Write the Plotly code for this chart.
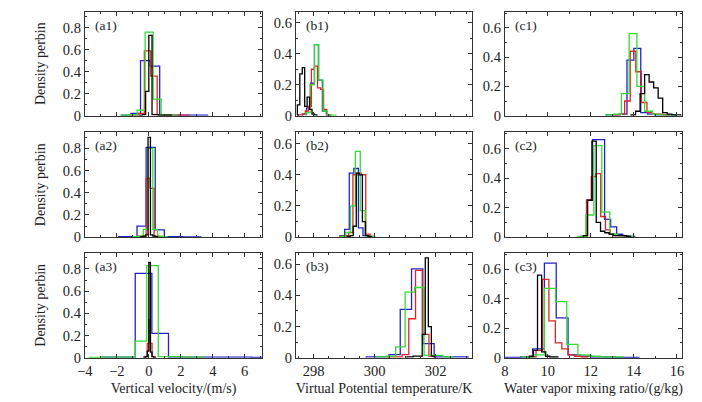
import plotly.graph_objects as go

# ---- data: (first bin edge, bin width) and density per bin for each series ----
A1_BINS = {"blue": (-1.72, 0.6), "red": (-1.08, 0.4), "green": (-1.73, 0.5), "black": (-0.6, 0.2)}
A1_BLUE = [0.005, 0.02, 0.50, 0.45, 0.01, 0.005, 0.005, 0.005, 0.005]
A1_RED = [0.005, 0.02, 0.59, 0.36, 0.01, 0.005, 0.005, 0.005, 0.005]
A1_GREEN = [0.005, 0.01, 0.05, 0.76, 0.15, 0.01, 0.005]
A1_BLACK = [0.005, 0.01, 0.22, 0.73, 0.01, 0.01, 0.005, 0.005, 0.005, 0.005]

A2_BINS = {"blue": (-1.88, 0.57), "red": (-0.92, 0.25), "green": (-0.95, 0.3), "black": (-0.5, 0.15)}
A2_BLUE = [0.005, 0.005, 0.10, 0.81, 0.065, 0.005, 0.005, 0.003, 0.003]
A2_RED = [0.005, 0.01, 0.01, 0.53, 0.44, 0.01, 0.005, 0.005]
A2_GREEN = [0.005, 0.01, 0.07, 0.80, 0.07, 0.01, 0.005]
A2_BLACK = [0.005, 0.01, 0.02, 0.90, 0.02, 0.01, 0.005]

A3_BINS = {"blue": (-2.93, 1.04), "red": (-0.3, 0.1), "green": (-3.73, 0.72), "black": (-0.3, 0.1)}
A3_BLUE = [0.005, 0.005, 0.76, 0.22, 0.005, 0.005, 0.005, 0.005, 0.005, 0.003]
A3_RED = [0.005, 0.01, 0.13, 0.34, 0.13, 0.01, 0.005]
A3_GREEN = [0.003, 0.005, 0.005, 0.005, 0.15, 0.83, 0.01, 0.01, 0.005, 0.005]
A3_BLACK = [0.005, 0.01, 0.06, 0.86, 0.05, 0.01, 0.005]

B1_BINS = {"blue": (297.64, 0.13), "red": (297.53, 0.1), "green": (297.75, 0.14), "black": (297.47, 0.08)}
B1_BLUE = [0.01, 0.05, 0.21, 0.46, 0.23, 0.03, 0.005]
B1_RED = [0.005, 0.01, 0.03, 0.06, 0.30, 0.32, 0.18, 0.17, 0.04, 0.005]
B1_GREEN = [0.02, 0.20, 0.46, 0.23, 0.03, 0.005, 0.003]
B1_BLACK = [0.07, 0.27, 0.31, 0.06, 0.12, 0.04, 0.01, 0.005]

B2_BINS = {"blue": (298.87, 0.15), "red": (298.87, 0.14), "green": (298.89, 0.16), "black": (299.1, 0.1)}
B2_BLUE = [0.01, 0.05, 0.41, 0.44, 0.06, 0.01]
B2_RED = [0.005, 0.01, 0.03, 0.40, 0.41, 0.40, 0.02, 0.005]
B2_GREEN = [0.005, 0.03, 0.20, 0.55, 0.17, 0.01, 0.005]
B2_BLACK = [0.005, 0.01, 0.07, 0.41, 0.40, 0.10, 0.01, 0.005]

B3_BINS = {"blue": (299.73, 0.37), "red": (300.46, 0.22), "green": (300.07, 0.31), "black": (301.06, 0.1)}
B3_BLUE = [0.005, 0.005, 0.02, 0.31, 0.57, 0.09, 0.005, 0.005, 0.005]
B3_RED = [0.005, 0.005, 0.02, 0.25, 0.56, 0.15, 0.01]
B3_GREEN = [0.005, 0.01, 0.07, 0.42, 0.45, 0.015, 0.015, 0.005]
B3_BLACK = [0.005, 0.005, 0.01, 0.01, 0.01, 0.15, 0.64, 0.20, 0.01]

C1_BINS = {"blue": (12.72, 0.32), "red": (13.05, 0.26), "green": (12.7, 0.36), "black": (13.87, 0.21)}
C1_BLUE = [0.005, 0.005, 0.01, 0.38, 0.46, 0.02, 0.01, 0.005, 0.005, 0.005]
C1_RED = [0.005, 0.01, 0.10, 0.44, 0.30, 0.09, 0.02, 0.01, 0.01, 0.005]
C1_GREEN = [0.005, 0.01, 0.15, 0.56, 0.20, 0.03, 0.01, 0.005, 0.005]
C1_BLACK = [0.005, 0.03, 0.15, 0.28, 0.23, 0.19, 0.12, 0.02, 0.01, 0.005, 0.005]

C2_BINS = {"blue": (11.52, 0.28), "red": (11.58, 0.22), "green": (11.4, 0.37), "black": (11.65, 0.2)}
C2_BLUE = [0.005, 0.25, 0.66, 0.66, 0.12, 0.07, 0.02, 0.01, 0.005]
C2_RED = [0.005, 0.25, 0.41, 0.43, 0.14, 0.05, 0.02, 0.01, 0.01, 0.005]
C2_GREEN = [0.005, 0.15, 0.62, 0.17, 0.02, 0.01, 0.005]
C2_BLACK = [0.01, 0.25, 0.65, 0.10, 0.04, 0.03, 0.02, 0.01, 0.01, 0.01, 0.005]

C3_BINS = {"blue": (7.64, 0.55), "red": (9.15, 0.3), "green": (8.8, 0.52), "black": (9.14, 0.19)}
C3_BLUE = [0.003, 0.003, 0.005, 0.06, 0.64, 0.27, 0.02, 0.01, 0.005, 0.005, 0.003, 0.003]
C3_RED = [0.005, 0.05, 0.53, 0.25, 0.10, 0.06, 0.02, 0.01, 0.005]
C3_GREEN = [0.005, 0.02, 0.47, 0.38, 0.09, 0.02, 0.01, 0.005, 0.005]
C3_BLACK = [0.01, 0.05, 0.56, 0.04, 0.01, 0.005, 0.005]

X_TITLES = ["Vertical velocity/(m/s)", "Virtual Potential temperature/K", "Water vapor mixing ratio/(g/kg)"]
Y_TITLE = "Density perbin"

PANELS = {
    "a1": (A1_BINS, {"blue": A1_BLUE, "red": A1_RED, "green": A1_GREEN, "black": A1_BLACK}),
    "a2": (A2_BINS, {"blue": A2_BLUE, "red": A2_RED, "green": A2_GREEN, "black": A2_BLACK}),
    "a3": (A3_BINS, {"blue": A3_BLUE, "red": A3_RED, "green": A3_GREEN, "black": A3_BLACK}),
    "b1": (B1_BINS, {"blue": B1_BLUE, "red": B1_RED, "green": B1_GREEN, "black": B1_BLACK}),
    "b2": (B2_BINS, {"blue": B2_BLUE, "red": B2_RED, "green": B2_GREEN, "black": B2_BLACK}),
    "b3": (B3_BINS, {"blue": B3_BLUE, "red": B3_RED, "green": B3_GREEN, "black": B3_BLACK}),
    "c1": (C1_BINS, {"blue": C1_BLUE, "red": C1_RED, "green": C1_GREEN, "black": C1_BLACK}),
    "c2": (C2_BINS, {"blue": C2_BLUE, "red": C2_RED, "green": C2_GREEN, "black": C2_BLACK}),
    "c3": (C3_BINS, {"blue": C3_BLUE, "red": C3_RED, "green": C3_GREEN, "black": C3_BLACK}),
}

# ---- styling ----
W, H = 702, 402
COLORS = {"blue": "#2222cc", "red": "#e02424", "green": "#33dd33", "black": "#000000"}
FONT = "Liberation Serif, Times New Roman, serif"
COL_PX = {"a": (78, 258), "b": (292, 471), "c": (504, 684)}
ROW_PX = [(12, 118), (135, 242), (258, 365)]
X_RANGE = {"a": [-4, 7.1], "b": [297.42, 303.2], "c": [8, 16.25]}
X_DTICK = {"a": (2, 1), "b": (2, 0.5), "c": (2, 1)}
Y_RANGE = {"a": [0, 0.945], "b": [0, 0.672], "c": [0, 0.71]}

fig = go.Figure()
layout = {}
annotations = []

for k, (name, (bins, series)) in enumerate(PANELS.items(), start=1):
    col = name[0]
    row = int(name[1]) - 1
    xa = "x" if k == 1 else f"x{k}"
    ya = "y" if k == 1 else f"y{k}"

    # step outline of each histogram, built from its bin edges
    for color in ["blue", "red", "green", "black"]:
        start, width = bins[color]
        vals = series[color]
        edges = [start + i * width for i in range(len(vals) + 1)]
        fig.add_trace(go.Scatter(
            x=[edges[0]] + edges,
            y=[0] + vals + [0],
            mode="lines",
            line=dict(color=COLORS[color], width=1.3, shape="hv"),
            xaxis=xa, yaxis=ya, showlegend=False, hoverinfo="skip",
        ))

    x0, x1 = COL_PX[col]
    top, bot = ROW_PX[row]
    common = dict(
        showline=True, linecolor="#333333", linewidth=1, mirror="allticks",
        ticks="inside", ticklen=4, tickcolor="#333333", showgrid=False, zeroline=False,
        tickfont=dict(family=FONT, size=14.5, color="#222222"),
    )
    dt, mdt = X_DTICK[col]
    xaxis = dict(
        domain=[x0 / W, x1 / W], anchor=ya, range=X_RANGE[col], dtick=dt,
        minor=dict(ticks="inside", ticklen=2, dtick=mdt, tickcolor="#333333"),
        showticklabels=(row == 2), **common,
    )
    if row == 2:
        xaxis["title"] = dict(text=X_TITLES["abc".index(col)], standoff=5,
                              font=dict(family=FONT, size=14, color="#222222"))
    yaxis = dict(
        domain=[1 - bot / H, 1 - top / H], anchor=xa, range=Y_RANGE[col], dtick=0.2,
        minor=dict(ticks="inside", ticklen=2, dtick=0.1, tickcolor="#333333"),
        **common,
    )
    if col == "a":
        yaxis["title"] = dict(text=Y_TITLE, standoff=13,
                              font=dict(family=FONT, size=14, color="#222222"))
    layout["xaxis" if k == 1 else f"xaxis{k}"] = xaxis
    layout["yaxis" if k == 1 else f"yaxis{k}"] = yaxis

    annotations.append(dict(
        text=f"({name})", xref=f"{xa} domain", yref=f"{ya} domain",
        x=0.045, y=0.87, xanchor="left", yanchor="middle", showarrow=False,
        font=dict(family=FONT, size=13.5, color="#222222"),
    ))

fig.update_layout(
    width=W, height=H, margin=dict(l=0, r=0, t=0, b=0),
    paper_bgcolor="white", plot_bgcolor="white",
    annotations=annotations, **layout,
)

# drop the default page margin so the 702x402 figure sits flush in the window
fig.write_html("out.html", config={"displayModeBar": False},
               post_script="document.body.style.margin='0';")
